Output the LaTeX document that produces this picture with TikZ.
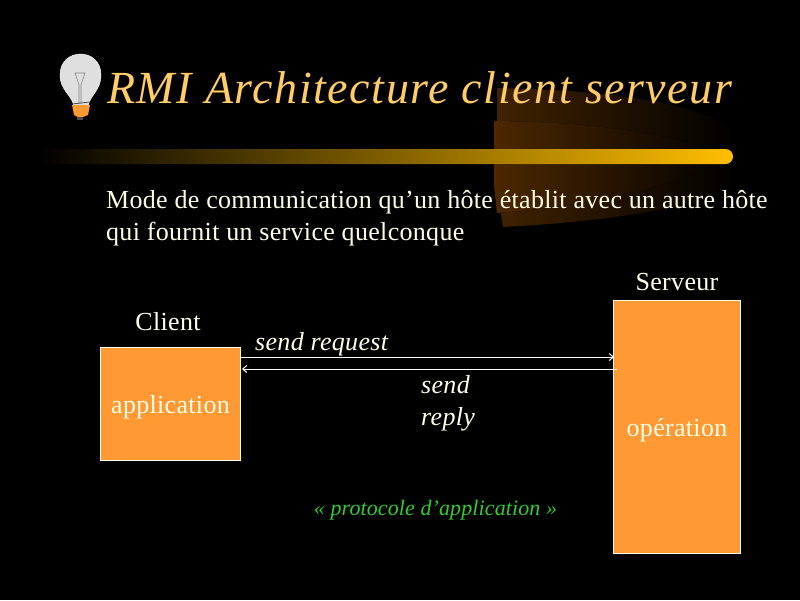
\documentclass[tikz,border=0pt]{standalone}
\usepackage{fontspec}
\usetikzlibrary{arrows.meta}
\setmainfont{Liberation Serif}[LetterSpace=1.2]
\newfontfamily\titlefont{Liberation Serif}[LetterSpace=3.4]
\newfontfamily\greenfont{Liberation Serif}[LetterSpace=0.5]
\definecolor{titlecolor}{HTML}{FFCC66}
\definecolor{bodycolor}{HTML}{FFFFE8}
\definecolor{boxcolor}{HTML}{FF9933}
\definecolor{barcolor}{HTML}{FFBE00}
\definecolor{glowcolor}{HTML}{4C2800}
\definecolor{greencolor}{HTML}{33CC33}
\tikzset{
  boxnode/.style={draw=bodycolor,line width=1pt,fill=boxcolor,inner sep=0pt,anchor=north west},
  textnode/.style={text=bodycolor,font=\fontsize{26}{32}\selectfont,inner sep=0pt},
  linknode/.style={text=bodycolor,font=\fontsize{26}{32}\selectfont\itshape,inner sep=0pt,anchor=west,align=left}
}
\begin{document}
\begin{tikzpicture}[x=1pt,y=-1pt,>={Straight Barb[length=4pt,width=7pt]}]
  \useasboundingbox[fill=black] (0,0) rectangle (800,600);

  \fill[left color=glowcolor!85!black,right color=black] (497,88) .. controls (600,90) and (690,100) .. (735,130)
    -- (735,190) .. controls (680,210) and (600,222) .. (503,227) -- (497,190) -- cycle;
  \fill[left color=glowcolor,right color=black] (494,121) .. controls (600,122) and (680,135) .. (730,157)
    .. controls (680,185) and (600,205) .. (497,213) -- (494,185) -- cycle;

  \fill[left color=black,right color=barcolor] (40,149) -- (725.5,149) arc[start angle=-90,end angle=90,radius=7.5]
    -- (40,164) -- cycle;

  % bulb
  \fill[gray!25,draw=white] (74,106) .. controls (71,94) and (60,90) .. (60,75) .. controls (60,47) and (101,47) .. (101,75)
    .. controls (101,90) and (91,94) .. (88,106) -- cycle;
  \fill[boxcolor] (72,105) -- (90,105) -- (88,115) -- (83,117) -- (78,117) -- (74,115) -- cycle;
  \fill[gray!60!black] (77,117) rectangle (83,120);
  \draw[gray,semithick] (75,73) -- (85,73) -- (81,85) -- (81,104) (75,73) -- (79,85) -- (79,104);
  \draw[gray!60!black,thick] (72,104) -- (90,102);

  \node[text=titlecolor,font=\fontsize{46}{50}\titlefont\itshape,inner sep=0pt,anchor=west] (title) at (107,88) {RMI Architecture client serveur};
  \node[textnode,anchor=north west,align=left] (intro) at (106,190) {Mode de communication qu’un hôte établit avec un autre hôte\\qui fournit un service quelconque};

  \node[boxnode,minimum width=140pt,minimum height=113pt] (client) at (100,347) {};
  \node[boxnode,minimum width=127pt,minimum height=253pt] (server) at (613,300) {};
  \node[textnode] (app) at (170.5,407) {application};
  \node[textnode] (oper) at (677,430) {opération};
  \node[textnode] (clientlabel) at (168,322) {Client};
  \node[textnode] (serverlabel) at (677,282) {Serveur};

  \coordinate (reqstart) at (241,357);
  \coordinate (reqend) at (614,357);
  \coordinate (repstart) at (617,369);
  \coordinate (repend) at (242,369);
  \path [white,line width=1pt] (reqstart) edge [->] node {} (reqend);
  \path [white,line width=1pt] (repstart) edge [->] node {} (repend);

  \node[linknode] (request) at (255,344) {send request};
  \node[linknode] (reply) at (421,403.5) {send\\reply};
  \node[text=greencolor,font=\fontsize{22}{26}\greenfont\itshape,inner sep=0pt] (protocol) at (435.5,510) {« protocole d’application »};
\end{tikzpicture}
\end{document}
